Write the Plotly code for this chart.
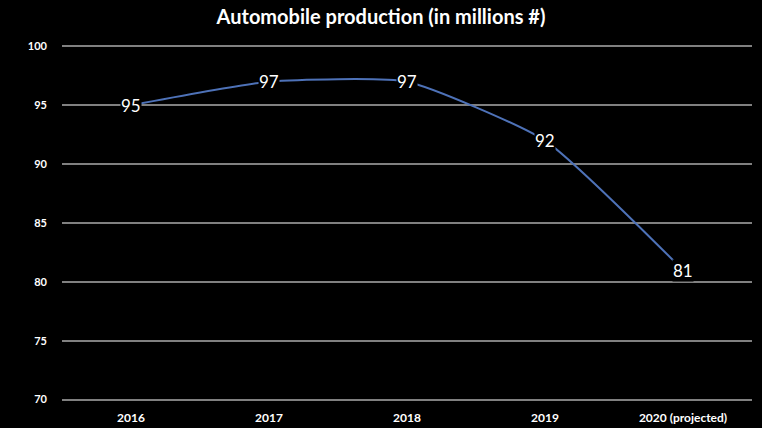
import plotly.graph_objects as go

years = ["2016", "2017", "2018", "2019", "2020 (projected)"]
production = [95, 97, 97, 92, 81]
y_ticks = [70, 75, 80, 85, 90, 95, 100]

fig = go.Figure()
fig.add_trace(go.Scatter(
    x=years, y=production, mode="lines",
    line=dict(color="#4E72B8", width=2, shape="spline", smoothing=0.5),
    hoverinfo="skip", showlegend=False,
))

# value labels sit on the points with a black backing
for i, val in enumerate(production):
    fig.add_annotation(
        x=i, y=val, text=str(val), showarrow=False,
        font=dict(family="Lato", size=17, color="white"),
        bgcolor="black", borderpad=0,
        xanchor="center", yanchor="middle",
    )

fig.update_layout(
    width=762, height=428,
    paper_bgcolor="black", plot_bgcolor="black",
    margin=dict(l=62, r=10, t=44, b=26),
    title=dict(text="<b>Automobile production (in millions #)</b>",
               x=0.5, xanchor="center", y=0.96, yanchor="middle",
               font=dict(family="Lato", size=20, color="white")),
    xaxis=dict(type="category", range=[-0.5, len(years) - 0.5],
               automargin=False,
               showgrid=False, showline=False, zeroline=False,
               tickfont=dict(family="Lato", size=12, color="white"),
               ticklabelstandoff=7, tickangle=0,
               tickvals=years, ticktext=[f"<b>{y}</b>" for y in years]),
    yaxis=dict(range=[69.8, 100.2], tickvals=y_ticks, automargin=False,
               ticktext=[f"<b>{v}</b>" for v in y_ticks],
               showgrid=True, gridcolor="#808080", gridwidth=1.5,
               zeroline=False, showline=False,
               tickfont=dict(family="Lato", size=11, color="white"),
               ticklabelstandoff=14),
)

fig.write_html("out.html")
